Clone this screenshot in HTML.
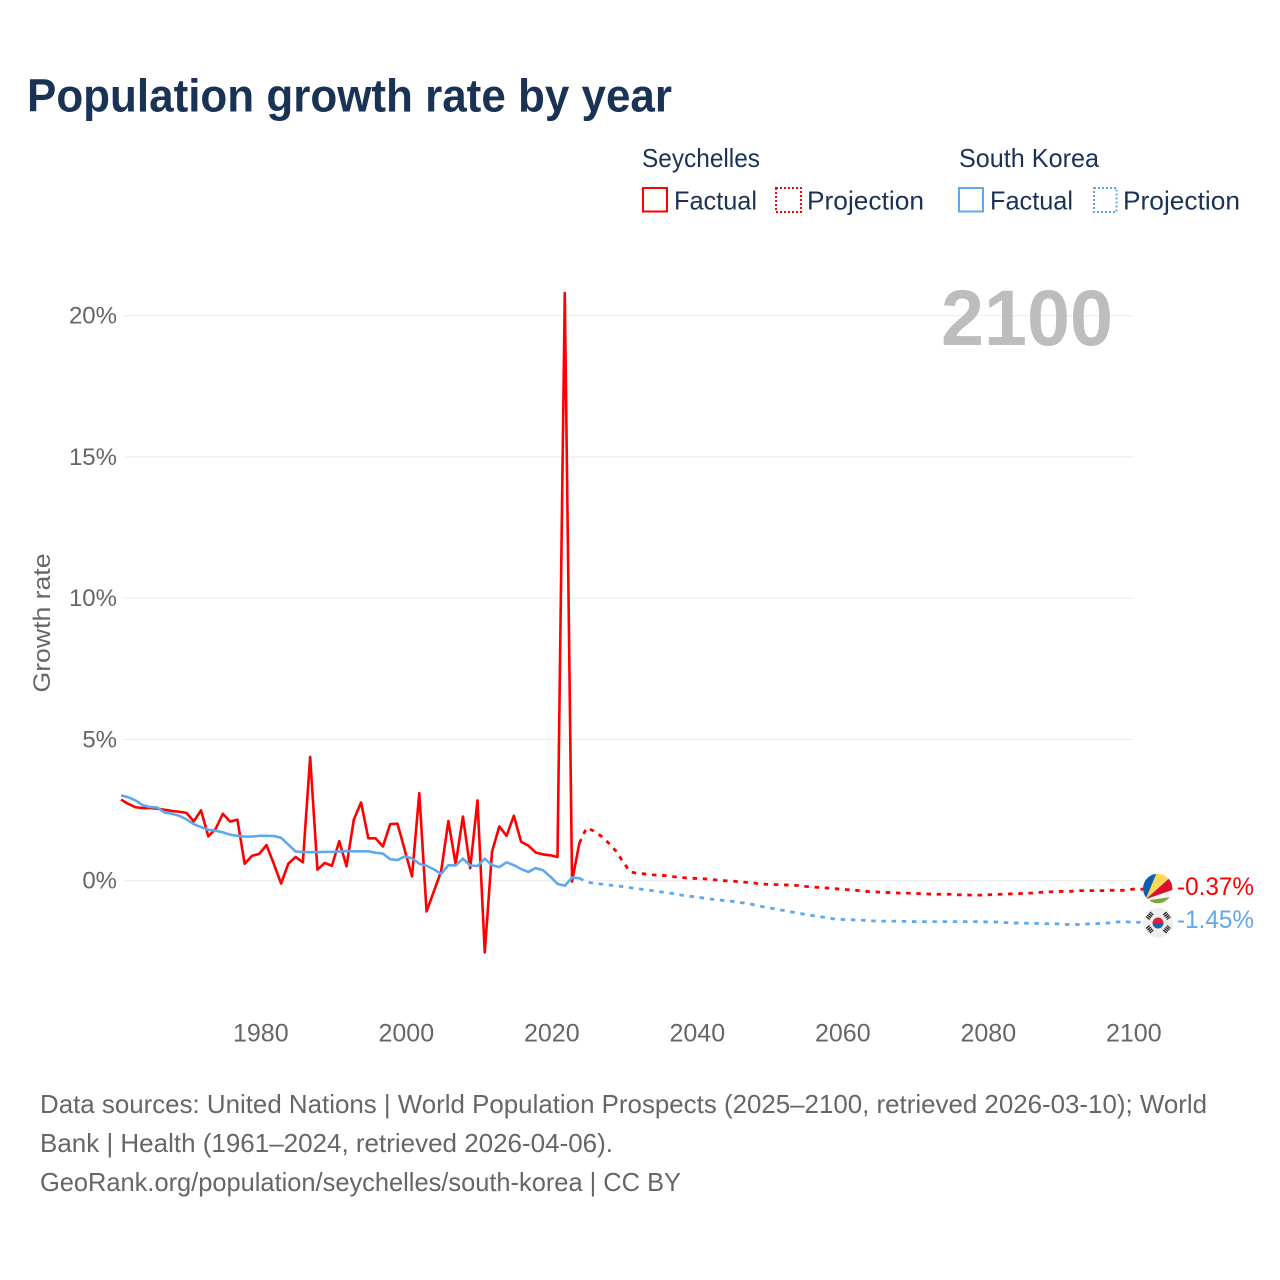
<!DOCTYPE html>
<html lang="en">
<head>
<meta charset="utf-8">
<title>Population growth rate by year</title>
<style>
html,body{margin:0;padding:0;background:#fff;}
svg{display:block;font-family:"Liberation Sans",sans-serif;}
</style>
</head>
<body>
<svg id="chart" xmlns="http://www.w3.org/2000/svg" width="1280" height="1280" viewBox="0 0 1280 1280">
  <rect width="1280" height="1280" fill="#fff"/>
  <text x="27" y="111.5" font-size="46" font-weight="700" fill="#1a3355" textLength="645" lengthAdjust="spacingAndGlyphs">Population growth rate by year</text>

  <g font-size="26" fill="#1a3355">
    <text x="642" y="167" textLength="118" lengthAdjust="spacingAndGlyphs">Seychelles</text>
    <text x="959" y="167" textLength="140" lengthAdjust="spacingAndGlyphs">South Korea</text>
    <rect x="643" y="188" width="24" height="23.5" fill="none" stroke="#ff0000" stroke-width="2"/>
    <text x="674" y="209.5" textLength="83" lengthAdjust="spacingAndGlyphs">Factual</text>
    <rect x="776" y="188" width="25" height="24" fill="none" stroke="#ff0000" stroke-width="2" stroke-dasharray="2 2"/>
    <text x="807" y="209.5" textLength="117" lengthAdjust="spacingAndGlyphs">Projection</text>
    <rect x="959" y="188" width="24" height="23.5" fill="none" stroke="#5ea8ed" stroke-width="2"/>
    <text x="990" y="209.5" textLength="83" lengthAdjust="spacingAndGlyphs">Factual</text>
    <rect x="1094" y="188" width="22.5" height="24" fill="none" stroke="#5ea8ed" stroke-width="2" stroke-dasharray="2 2"/>
    <text x="1123" y="209.5" textLength="117" lengthAdjust="spacingAndGlyphs">Projection</text>
  </g>

  <g id="grid"></g>
  <g id="yAxis"></g>
  <g id="xAxis"></g>
  <text transform="translate(50,623) rotate(-90)" text-anchor="middle" font-size="24" fill="#666" textLength="139" lengthAdjust="spacingAndGlyphs">Growth rate</text>

  <text x="941" y="345" font-size="79" font-weight="700" fill="#bdbdbd" textLength="172" lengthAdjust="spacingAndGlyphs">2100</text>

  <g id="series"></g>

  <g>
    <clipPath id="clipSc"><circle cx="1157.7" cy="888.5" r="14.7"/></clipPath>
    <g clip-path="url(#clipSc)">
      <rect x="1142" y="873" width="32" height="33" fill="#f4f4f4"/>
      <path d="M1145.7 899.3 L1142 899.3 L1142 873 L1156.7 873 Z" fill="#0d5eaf"/>
      <path d="M1145.7 899.3 L1156.7 873 L1169.3 873 L1169.3 878.3 Z" fill="#fcd856"/>
      <path d="M1145.7 899.3 L1169.3 878.3 L1174 878.3 L1174 889.3 Z" fill="#d8112e"/>
      <path d="M1150 900 L1171 897 L1171 906 L1150 906 Z" fill="#7aa843"/>
    </g>
  </g>
  <g>
    <circle cx="1158" cy="922.5" r="15" fill="#eeeeee"/>
    <path d="M1152.5 923 A5.5 5.5 0 0 1 1163.5 923 Z" fill="#d8243c"/>
    <path d="M1152.5 923 A5.5 5.5 0 0 0 1163.5 923 Z" fill="#1d5fb4"/>
    <g stroke="#222" stroke-width="4.6" stroke-dasharray="1.3 0.7" fill="none">
      <path d="M1147.5 918.5 L1152 913"/>
      <path d="M1164.5 913 L1169 918.5"/>
      <path d="M1147.5 926.5 L1152 932"/>
      <path d="M1164.5 932 L1169 926.5"/>
    </g>
  </g>

  <text x="1177" y="895" font-size="25" fill="#ff0000" textLength="77" lengthAdjust="spacingAndGlyphs">-0.37%</text>
  <text x="1177" y="928" font-size="25" fill="#5ea8ed" textLength="77" lengthAdjust="spacingAndGlyphs">-1.45%</text>

  <g font-size="26" fill="#666">
    <text x="40" y="1113" textLength="1167" lengthAdjust="spacingAndGlyphs">Data sources: United Nations | World Population Prospects (2025–2100, retrieved 2026-03-10); World</text>
    <text x="40" y="1152" textLength="573" lengthAdjust="spacingAndGlyphs">Bank | Health (1961–2024, retrieved 2026-04-06).</text>
    <text x="40" y="1191" textLength="641" lengthAdjust="spacingAndGlyphs">GeoRank.org/population/seychelles/south-korea | CC BY</text>
  </g>
</svg>
<script>
const yTicks = [0, 5, 10, 15, 20];
const xTicks = [1980, 2000, 2020, 2040, 2060, 2080, 2100];
const factualStartYear = 1961;
const projectionStartYear = 2024;

const seychellesFactual = [2.87,2.72,2.6,2.57,2.57,2.55,2.51,2.47,2.44,2.4,2.1,2.49,1.57,1.83,2.37,2.09,2.16,0.6,0.88,0.95,1.26,0.6,-0.1,0.6,0.84,0.65,4.38,0.39,0.63,0.53,1.4,0.51,2.16,2.77,1.5,1.5,1.21,2.0,2.02,1.09,0.15,3.1,-1.09,-0.38,0.33,2.11,0.59,2.27,0.44,2.84,-2.54,1.03,1.92,1.59,2.3,1.38,1.24,1.0,0.93,0.9,0.84,20.8,-0.03,1.33];
const koreaFactual = [3.02,2.95,2.84,2.67,2.61,2.59,2.41,2.37,2.3,2.17,2.0,1.9,1.8,1.77,1.71,1.63,1.59,1.56,1.56,1.59,1.59,1.58,1.52,1.28,1.03,1.02,1.01,1.01,1.02,1.02,1.03,1.05,1.04,1.04,1.04,0.99,0.96,0.76,0.73,0.86,0.79,0.6,0.53,0.4,0.24,0.55,0.54,0.78,0.54,0.52,0.78,0.55,0.48,0.65,0.55,0.41,0.31,0.45,0.37,0.15,-0.11,-0.18,0.11,0.09];
const seychellesProjection = [1.33,1.87,1.76,1.58,1.34,1.06,0.67,0.31,0.26,0.24,0.21,0.19,0.18,0.14,0.12,0.09,0.08,0.07,0.05,0.02,0,-0.01,-0.04,-0.06,-0.08,-0.12,-0.13,-0.14,-0.15,-0.15,-0.17,-0.2,-0.22,-0.24,-0.26,-0.28,-0.3,-0.32,-0.34,-0.37,-0.39,-0.4,-0.42,-0.42,-0.44,-0.44,-0.45,-0.46,-0.47,-0.48,-0.48,-0.48,-0.5,-0.5,-0.51,-0.51,-0.5,-0.49,-0.48,-0.47,-0.46,-0.45,-0.44,-0.42,-0.4,-0.39,-0.38,-0.38,-0.37,-0.35,-0.35,-0.35,-0.35,-0.34,-0.34,-0.34,-0.3];
const koreaProjection = [0.09,-0.05,-0.09,-0.12,-0.15,-0.18,-0.21,-0.25,-0.28,-0.32,-0.35,-0.39,-0.42,-0.46,-0.51,-0.54,-0.58,-0.61,-0.65,-0.67,-0.71,-0.73,-0.77,-0.8,-0.85,-0.91,-0.96,-1.0,-1.05,-1.1,-1.14,-1.19,-1.23,-1.27,-1.31,-1.35,-1.37,-1.38,-1.39,-1.4,-1.42,-1.43,-1.43,-1.43,-1.44,-1.44,-1.45,-1.45,-1.45,-1.45,-1.45,-1.45,-1.45,-1.45,-1.45,-1.45,-1.46,-1.46,-1.47,-1.49,-1.5,-1.5,-1.51,-1.51,-1.52,-1.52,-1.53,-1.55,-1.55,-1.55,-1.53,-1.52,-1.51,-1.49,-1.46,-1.45,-1.47];

const NS = 'http://www.w3.org/2000/svg';
const PLOT_RIGHT = 1133;
function xScale(year) { return 121 + (year - 1961) * 7.275; }
function yScale(value) { return 880.7 - value * 28.25; }

const gridGroup = document.getElementById('grid');
const yAxisGroup = document.getElementById('yAxis');
const xAxisGroup = document.getElementById('xAxis');
const seriesGroup = document.getElementById('series');

yTicks.forEach(function (t) {
  const line = document.createElementNS(NS, 'line');
  
  
  line.setAttribute('x1', 124);
  line.setAttribute('x2', PLOT_RIGHT);
  line.setAttribute('y1', yScale(t));
  line.setAttribute('y2', yScale(t));
  line.setAttribute('stroke', '#ececec');
  line.setAttribute('stroke-width', '1.2');
  gridGroup.appendChild(line);

  const label = document.createElementNS(NS, 'text');
  
  
  label.setAttribute('x', 117);
  label.setAttribute('y', yScale(t) + 8);
  label.setAttribute('text-anchor', 'end');
  label.setAttribute('font-size', '24');
  label.setAttribute('fill', '#666');
  label.textContent = t + '%';
  yAxisGroup.appendChild(label);
});

xTicks.forEach(function (t) {
  const label = document.createElementNS(NS, 'text');
  
  
  label.setAttribute('x', xScale(t) + 1.6);
  label.setAttribute('y', 1041.5);
  label.setAttribute('text-anchor', 'middle');
  label.setAttribute('font-size', '25');
  label.setAttribute('fill', '#666');
  label.textContent = t;
  xAxisGroup.appendChild(label);
});

function pointsFor(values, startYear) {
  return values.map(function (v, i) {
    return xScale(startYear + i).toFixed(2) + ',' + yScale(v).toFixed(2);
  });
}

function addLine(name, values, startYear, color, dashed, tail) {
  const line = document.createElementNS(NS, 'polyline');
  
  
  const pts = pointsFor(values, startYear);
  if (tail) {
    pts.push(tail + ',' + yScale(values[values.length - 1]).toFixed(2));
  }
  line.setAttribute('points', pts.join(' '));
  line.setAttribute('fill', 'none');
  line.setAttribute('stroke', color);
  line.setAttribute('stroke-width', dashed ? '2.8' : '2.6');
  line.setAttribute('stroke-linejoin', 'round');
  if (dashed) {
    line.setAttribute('stroke-dasharray', '4.5 5.7');
  }
  seriesGroup.appendChild(line);
}

addLine('seychelles-projection-line', seychellesProjection, projectionStartYear, '#ff0000', true, 1145);
addLine('seychelles-factual-line', seychellesFactual, factualStartYear, '#ff0000', false);
addLine('south-korea-projection-line', koreaProjection, projectionStartYear, '#5ea8ed', true, 1145);
addLine('south-korea-factual-line', koreaFactual, factualStartYear, '#5ea8ed', false);
</script>
</body>
</html>
